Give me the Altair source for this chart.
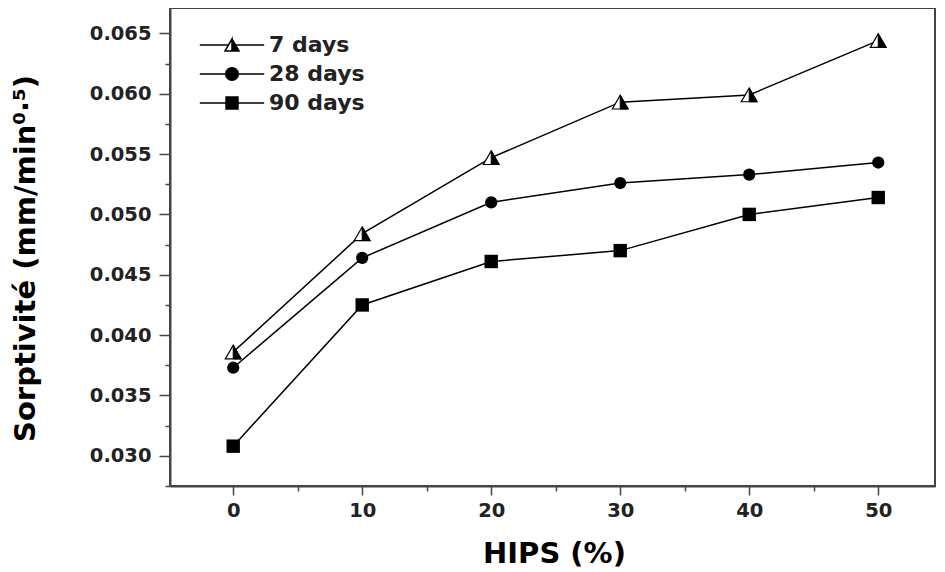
import altair as alt
import pandas as pd

# ---- data ----
hips = [0, 10, 20, 30, 40, 50]
s7 = [0.0386, 0.0484, 0.0547, 0.0593, 0.0599, 0.0644]
s28 = [0.0373, 0.0464, 0.0510, 0.0526, 0.0533, 0.0543]
s90 = [0.0308, 0.0425, 0.0461, 0.0470, 0.0500, 0.0514]
series_names = ["7 days", "28 days", "90 days"]

x_ticks = [0, 5, 10, 15, 20, 25, 30, 35, 40, 45, 50]
y_ticks = [0.0275, 0.030, 0.0325, 0.035, 0.0375, 0.040, 0.0425, 0.045,
           0.0475, 0.050, 0.0525, 0.055, 0.0575, 0.060, 0.0625, 0.065]

rows = []
for name, vals in zip(series_names, [s7, s28, s90]):
    for h, v in zip(hips, vals):
        rows.append({"HIPS": h, "S": v, "series": name})
df = pd.DataFrame(rows)

FONT = "DejaVu Sans"
INK = "#222222"
FRAME = "#444444"

xenc = alt.X("HIPS:Q", scale=alt.Scale(domain=[-4.9, 54.4], nice=False, zero=False),
             axis=alt.Axis(
                 title="HIPS (%)", values=x_ticks, grid=False,
                 labelExpr="datum.value % 10 === 0 ? datum.label : ''",
                 tickSize={"condition": {"test": "datum.value % 10 === 0", "value": 9}, "value": 5},
                 labelPadding=6, titleX=384, titleY=76, titleBaseline="alphabetic",
                 titleAlign="center", titleAnchor="middle"))
yenc = alt.Y("S:Q", scale=alt.Scale(domain=[0.0275, 0.0671], nice=False, zero=False),
             axis=alt.Axis(
                 title="Sorptivité (mm/min⁰·⁵)", values=y_ticks, grid=False,
                 labelExpr="round(datum.value*10000) % 50 === 0 ? format(datum.value, '.3f') : ''",
                 tickSize={"condition": {"test": "round(datum.value*10000) % 50 === 0", "value": 11}, "value": 5},
                 labelPadding=8, titleX=-136, titleY=250, titleBaseline="alphabetic",
                 titleAlign="center", titleAngle=-90))

base = alt.Chart(df)

lines = base.mark_line(color="black", strokeWidth=1.5).encode(
    x=xenc, y=yenc, detail="series:N")

tri_full = "M 0 -0.866 L 1 0.866 L -1 0.866 Z"
tri_right = "M 0 -0.866 L 1 0.866 L 0 0.866 Z"

tri_white = base.transform_filter(alt.datum.series == "7 days").mark_point(
    shape=tri_full, size=250, filled=True, fill="white", stroke="black",
    strokeWidth=1.2, opacity=1).encode(x=xenc, y=yenc)
tri_black = base.transform_filter(alt.datum.series == "7 days").mark_point(
    shape=tri_right, size=250, filled=True, fill="black", stroke="black",
    strokeWidth=1.0, opacity=1).encode(x=xenc, y=yenc)
circles = base.transform_filter(alt.datum.series == "28 days").mark_point(
    shape="circle", size=150, filled=True, color="black", opacity=1).encode(x=xenc, y=yenc)
squares = base.transform_filter(alt.datum.series == "90 days").mark_point(
    shape="square", size=180, filled=True, color="black", opacity=1).encode(x=xenc, y=yenc)

leg_tri = ("M -4.6 0 L -0.5 0 M 0.5 0 L 4.6 0 "
           "M 0 -0.87 L 1 0.87 L -1 0.87 Z M 0 -0.87 L -1 0.87 L 0 0.87 Z")
leg_circ = ("M -4.6 0 L -0.9 0 M 0.9 0 L 4.6 0 "
            "M 0.9 0 A 0.9 0.9 0 1 1 -0.9 0 A 0.9 0.9 0 1 1 0.9 0 Z")
leg_sq = ("M -4.6 0 L -0.85 0 M 0.85 0 L 4.6 0 "
          "M -0.85 -0.85 L 0.85 -0.85 L 0.85 0.85 L -0.85 0.85 Z")

legend_props = dict(
    title=None, orient="none", legendX=51, legendY=26,
    symbolSize=196, labelOffset=26, rowPadding=7, padding=0,
    labelFont=FONT, labelFontSize=22, labelFontWeight="bold",
    labelColor=INK,
    symbolFillColor="black", symbolStrokeColor="black",
    symbolStrokeWidth=1.5, symbolOpacity=1)

legend_layer = base.transform_filter("datum.HIPS < -100").mark_point(
    filled=True, fill="black", strokeWidth=1.5, opacity=1).encode(
    x=xenc, y=yenc,
    shape=alt.Shape("series:N",
                    scale=alt.Scale(domain=series_names, range=[leg_tri, leg_circ, leg_sq]),
                    legend=alt.Legend(**legend_props)),
    stroke=alt.Stroke("series:N",
                      scale=alt.Scale(domain=series_names, range=["black", "black", "black"]),
                      legend=alt.Legend(**legend_props)))

chart = alt.layer(lines, tri_white, tri_black, circles, squares, legend_layer).properties(
    width=765, height=478,
    autosize=alt.AutoSizeParams(type="none"),
    padding={"left": 162, "top": 0, "right": 2, "bottom": 82},
).configure_view(
    stroke=FRAME, strokeWidth=2
).configure_axis(
    domainColor=FRAME, domainWidth=2, tickColor=FRAME, tickWidth=1.5,
    labelFont=FONT, labelFontSize=19.5, labelFontWeight="bold", labelColor=INK,
    titleFont=FONT, titleFontWeight="bold", titleColor="black",
).configure_axisX(titleFontSize=29).configure_axisY(titleFontSize=29)

chart.save("out.html", embed_options={"renderer": "svg", "actions": False})
